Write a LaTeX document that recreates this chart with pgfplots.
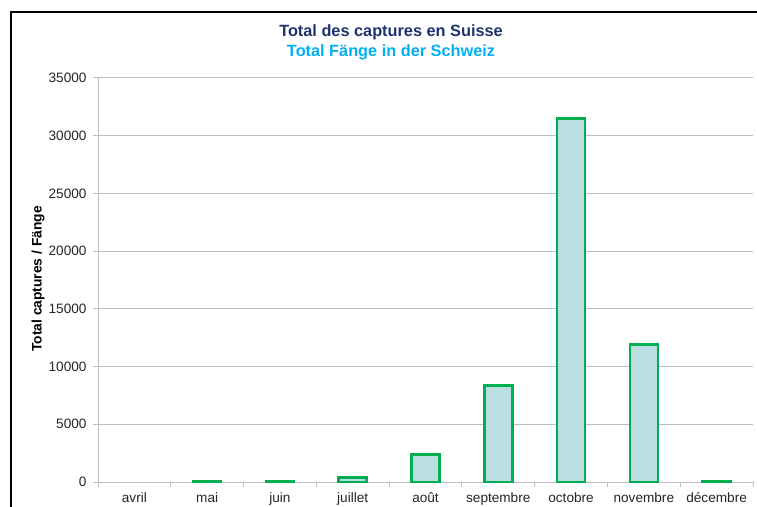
\documentclass[border=0pt]{standalone}
\usepackage{fontspec}
\setmainfont{Liberation Sans}
\usepackage{pgfplots}
\pgfplotsset{compat=1.18}
\definecolor{titlenavy}{RGB}{31,52,110}
\definecolor{titlecyan}{RGB}{0,176,240}
\definecolor{barfill}{RGB}{185,223,227}
\definecolor{bargreen}{RGB}{0,176,80}
\definecolor{gridgray}{RGB}{190,190,190}
\begin{document}
\begin{tikzpicture}[x=1pt,y=1pt]
\useasboundingbox (0,0) rectangle (757,506);
\fill[white] (0,0) rectangle (757,506);
\draw[black, line width=2pt] (11,-2) -- (11,494) -- (760,494);
\node[font=\bfseries\fontsize{16.3}{18}\selectfont, text=titlenavy] at (391,474) {Total des captures en Suisse};
\node[font=\bfseries\fontsize{16.3}{18}\selectfont, text=titlecyan] at (391,454) {Total Fänge in der Schweiz};
\node[font=\bfseries\fontsize{13.8}{15}\selectfont, rotate=90] at (38,227) {Total captures / Fänge};
\begin{axis}[
  at={(98pt,24pt)}, anchor=south west,
  scale only axis, width=655pt, height=404pt,
  xmin=-0.5, xmax=8.5, ymin=0, ymax=35000,
  axis x line*=bottom, axis y line*=left,
  axis line style={gridgray, -, line width=1pt},
  tick align=outside,
  major tick length=5pt,
  tick style={gridgray, line width=1pt},
  xtick={-0.5,0.5,...,8.5}, xticklabels={},
  extra x ticks={0,1,2,3,4,5,6,7,8},
  extra x tick labels={avril,mai,juin,juillet,août,septembre,octobre,novembre,décembre},
  extra x tick style={major tick length=0pt, xticklabel style={yshift=-7pt}},
  ytick={0,5000,...,35000},
  ymajorgrids, grid style={gridgray, line width=1pt},
  scaled y ticks=false,
  /pgf/number format/1000 sep={},
  /pgf/number format/assume math mode=true,
  ticklabel style={font=\fontsize{13.6}{15}\selectfont, text=black!85},
  yticklabel style={xshift=-3pt},
  clip=false,
]
\addplot[ybar, bar width=28pt, fill=barfill, draw=bargreen, line width=2.5pt]
  coordinates {(1,40) (2,40) (3,380) (4,2400) (5,8380) (6,31500) (7,11900) (8,40)};
\end{axis}
\end{tikzpicture}
\end{document}
